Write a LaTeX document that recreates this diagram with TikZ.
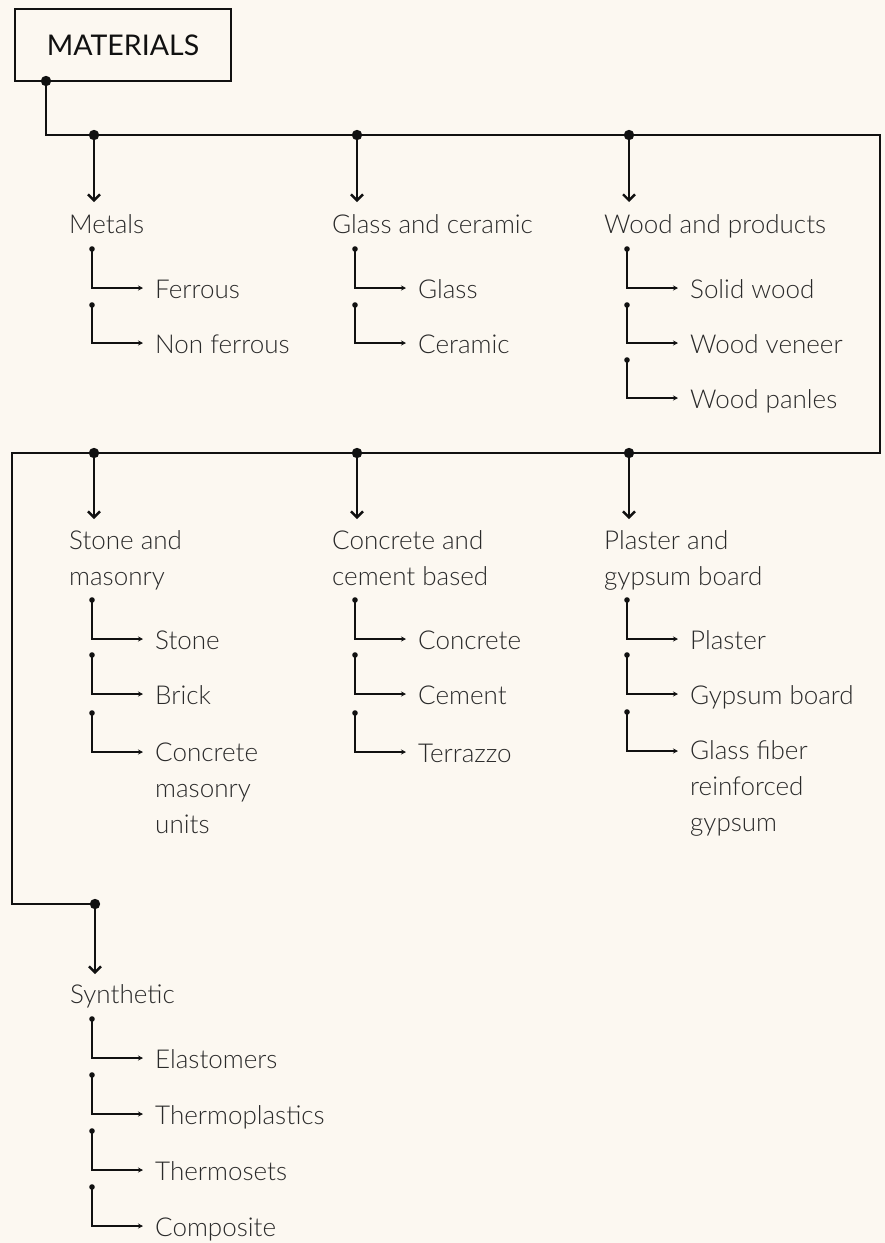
\documentclass[tikz,border=0pt]{standalone}
\usepackage{fontspec}
\setmainfont{Lato Light}
\newfontfamily\headfont{Lato}
\usetikzlibrary{arrows.meta}

\definecolor{paper}{HTML}{FCF8F1}
\definecolor{ink}{HTML}{111111}
\definecolor{textcol}{HTML}{2A2A2A}

\tikzset{
  mainline/.style={draw=ink, line width=2.8pt, line join=miter},
  mainarrow/.style={draw=ink, line width=2.8pt, -{Straight Barb[length=6pt,width=12pt,line width=2.4pt]}},
  subline/.style={draw=ink, line width=1.8pt, -{Stealth[length=5pt,width=5pt]}},
  label/.style={anchor=base west, inner sep=0pt, text=textcol, align=left,
    font=\fontsize{26}{36}\selectfont},
  item/.style={label},
  titlebox/.style={draw=ink, line width=2.8pt, minimum width=216pt, minimum height=72pt,
    inner sep=0pt, text=ink, font=\headfont\fontsize{28.5}{32}\selectfont},
}

% one leaf of a category: dot, elbow line and arrow to the text
% (the base anchor of a wrapped text sits on its last line, hence the optional shift)
\newcommand\branch[6][]{% #1 node options, #2 name, #3 dot x, #4 dot y, #5 elbow y, #6 text
  \coordinate (#2d) at (#3,#4);
  \coordinate (#2e) at ({#3+51},#5);
  \node[item,#1] (#2) at ({#3+63},{#5+10}) {#6};
  \draw[subline] (#2d) |- (#2e);
  \fill[ink] (#2d) circle (2.8pt);
}

% one category: junction dot on the trunk, arrow down, heading
\newcommand\category[7][]{% #1 node options, #2 name, #3 x, #4 trunk y, #5 arrow tip y, #6 heading baseline, #7 heading
  \coordinate (#2j) at (#3,#4);
  \coordinate (#2t) at (#3,#5);
  \node[label,#1] (#2) at ({#3-25},#6) {#7};
  \draw[mainarrow] (#2j) -- (#2t);
  \fill[ink] (#2j) circle (5.2pt);
}

\begin{document}
\begin{tikzpicture}[x=1pt, y=-1pt]
  \fill[paper] (0,0) rectangle (885,1243);
  \useasboundingbox (0,0) rectangle (885,1243);

  % root
  \node[titlebox] (root) at (123,45) {MATERIALS};
  \coordinate (r0) at (46,81);
  \coordinate (c1) at (46,135);
  \coordinate (c2) at (880,135);
  \coordinate (c3) at (880,453);
  \coordinate (c4) at (12,453);
  \coordinate (c5) at (12,904);
  \coordinate (c6) at (95,904);

  % trunk winding through the three rows
  \draw[mainline] (r0) -- (c1) -- (c2) -- (c3) -- (c4) -- (c5) -- (c6);
  \fill[ink] (r0) circle (5.2pt);

  % first row
  \category{metals}{94}{135}{202}{233}{Metals}
  \branch{ferrous}{92}{249}{288}{Ferrous}
  \branch{nonferrous}{92}{305}{343}{Non ferrous}

  \category{glass}{357}{135}{202}{233}{Glass and ceramic}
  \branch{glassi}{355}{249}{288}{Glass}
  \branch{ceramic}{355}{305}{343}{Ceramic}

  \category{wood}{629}{135}{202}{233}{Wood and products}
  \branch{solid}{627}{249}{288}{Solid wood}
  \branch{veneer}{627}{305}{343}{Wood veneer}
  \branch{panels}{627}{360}{398}{Wood panles}

  % second row
  \category[yshift=-36pt]{stone}{94}{453}{519}{549}{Stone and\\masonry}
  \branch{stonei}{92}{600}{639}{Stone}
  \branch{brick}{92}{655}{694}{Brick}
  \branch[yshift=-71pt]{cmu}{92}{713}{752}{Concrete\\masonry\\units}

  \category[yshift=-36pt]{concrete}{357}{453}{519}{549}{Concrete and\\cement based}
  \branch{concretei}{355}{600}{639}{Concrete}
  \branch{cement}{355}{655}{694}{Cement}
  \branch{terrazzo}{355}{713}{752}{Terrazzo}

  \category[yshift=-36pt]{plaster}{629}{453}{519}{549}{Plaster and\\gypsum board}
  \branch{plasteri}{627}{600}{639}{Plaster}
  \branch{gypsum}{627}{655}{694}{Gypsum board}
  \branch[yshift=-70pt]{gfrg}{627}{712}{751}{Glass fiber\\reinforced\\gypsum}

  % third row
  \category{synthetic}{95}{904}{974}{1003}{Synthetic}
  \branch{elast}{92}{1019}{1058}{Elastomers}
  \branch{thermop}{92}{1075}{1114}{Thermoplastics}
  \branch{thermos}{92}{1131}{1170}{Thermosets}
  \branch{composite}{92}{1187}{1226}{Composite}
\end{tikzpicture}
\end{document}
